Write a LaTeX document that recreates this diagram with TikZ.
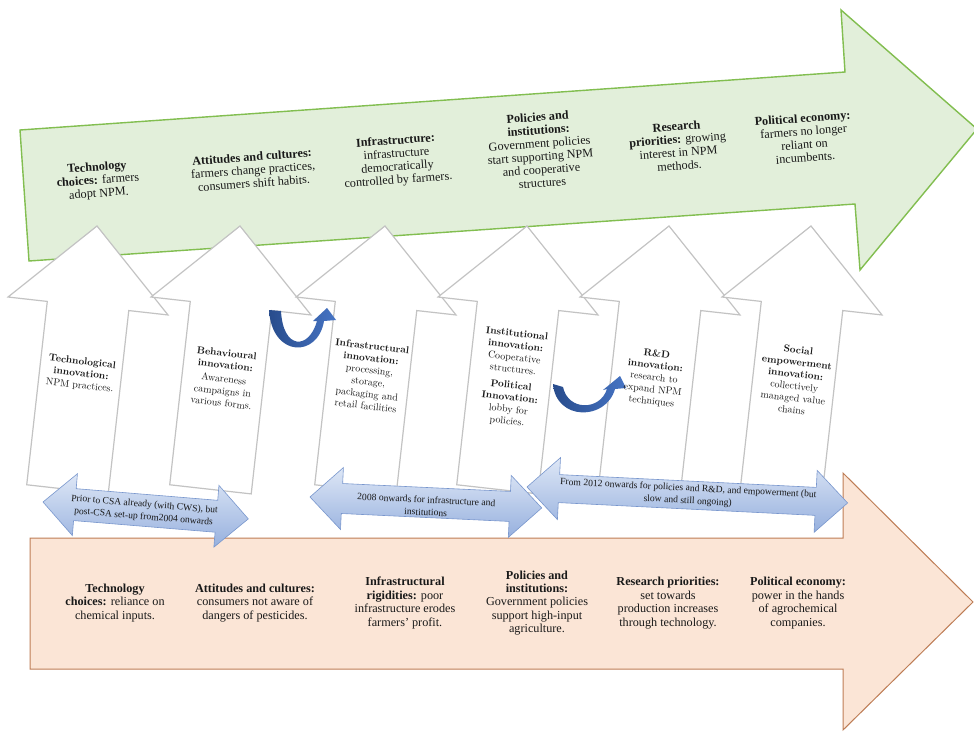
\documentclass[tikz,border=0pt]{standalone}
\usepackage{fontspec}
\newfontfamily\garfont{Liberation Serif}
\definecolor{grfill}{RGB}{226,239,218}
\definecolor{grline}{RGB}{130,190,80}
\definecolor{orfill}{RGB}{251,229,214}
\definecolor{orline}{RGB}{190,125,85}
\definecolor{wline}{RGB}{195,195,195}
\definecolor{bltop}{RGB}{222,231,246}
\definecolor{blbot}{RGB}{150,176,222}
\definecolor{blline}{RGB}{120,150,205}
\definecolor{cvdark}{RGB}{40,76,140}
\definecolor{cvlight}{RGB}{70,116,196}
\definecolor{txt}{RGB}{25,25,25}
\tikzset{
  greenarr/.style={draw=grline, fill=grfill, line width=1.4pt},
  orangearr/.style={draw=orline, fill=orfill, line width=1pt},
  whitearr/.style={draw=wline, fill=white, line width=1.2pt},
  bluearr/.style={draw=blline, line width=0.6pt, top color=bltop, bottom color=blbot},
  curvearr/.style={left color=cvdark, right color=cvlight},
  toptxt/.style={font=\garfont\fontsize{12.2}{13.2}\selectfont, align=center, text=txt, rotate=4.2, inner sep=0pt},
  midtxt/.style={font=\fontsize{10}{12}\selectfont, align=center, text=txt, rotate=-6.5, inner sep=0pt},
  bottxt/.style={font=\garfont\fontsize{12.2}{13.4}\selectfont, align=center, text=txt, inner sep=0pt},
  dbltxt/.style={font=\garfont\fontsize{9.6}{12.5}\selectfont, align=center, text=txt, inner sep=0pt},
}
\newcommand{\myuparrow}{%
  \draw[whitearr] (0,0) -- (80.5,80.5) -- (41,80.5) -- (41,265) -- (-41,265) -- (-41,80.5) -- (-80.5,80.5) -- cycle;}
\newcommand{\mydblarrow}[2]{% length, shaft half-width
  \draw[bluearr] (0,0) -- (32,-31) -- (32,-#2) -- ({#1-32},-#2) -- ({#1-32},-31) -- (#1,0)
    -- ({#1-32},31) -- ({#1-32},#2) -- (32,#2) -- (32,31) -- cycle;}
\begin{document}
\begin{tikzpicture}[x=1pt,y=-1pt,line join=miter]
\useasboundingbox (0,0) rectangle (974,731);
\fill[white] (0,0) rectangle (974,731);
% big horizontal arrows
\draw[greenarr] (20,130) -- (845,72) -- (841,10) -- (977,129) -- (860,270) -- (855,204) -- (29,261) -- cycle;
\draw[orangearr] (30,538) -- (843,538) -- (843,473) -- (973,602) -- (843,730) -- (843,669) -- (30,669) -- cycle;
% white upward arrows
\foreach \tx in {97,240,385,527,669,811}{
  \begin{scope}[shift={(\tx,226)},rotate=-6.4]
    \myuparrow
  \end{scope}
}
% double arrows
\begin{scope}[shift={(43,502)},rotate=-4.7]
  \mydblarrow{206}{16}
\end{scope}
\begin{scope}[shift={(310,497)},rotate=-2.7]
  \mydblarrow{232}{15}
\end{scope}
\begin{scope}[shift={(527,487)},rotate=-2.85]
  \mydblarrow{321}{14}
\end{scope}
% curved arrows
\shade[curvearr] (269,310) -- (281,311) .. controls (283,350) and (309,350) .. (317,321)
  -- (313,321) -- (327,308) -- (336,320) -- (324,321)
  .. controls (318,358) and (272,358) .. (269,310) -- cycle;
\shade[curvearr] (553,384) -- (563,387) .. controls (568,411) and (600,411) .. (607,389)
  -- (603,390) -- (620,376) -- (626,388) -- (615,389)
  .. controls (606,421) and (556,421) .. (553,384) -- cycle;
% top texts
\node[toptxt] (g1) at (98,181) {\textbf{Technology}\\\textbf{choices:} farmers\\adopt NPM.};
\node[toptxt] (g2) at (253,170) {\textbf{Attitudes and cultures:}\\farmers change practices,\\consumers shift habits.};
\node[toptxt] (g3) at (397,161) {\textbf{Infrastructure:}\\infrastructure\\democratically\\controlled by farmers.};
\node[toptxt] (g4) at (540,150) {\textbf{Policies and}\\\textbf{institutions:}\\Government policies\\start supporting NPM\\and cooperative\\structures};
\node[toptxt] (g5) at (678,146) {\textbf{Research}\\\textbf{priorities:} growing\\interest in NPM\\methods.};
\node[toptxt] (g6) at (804,138) {\textbf{Political economy:}\\farmers no longer\\reliant on\\incumbents.};
% middle texts
\node[midtxt] (m1) at (81,374) {\textbf{Technological}\\\textbf{innovation:}\\NPM practices.};
\node[midtxt] (m2) at (224,378) {\textbf{Behavioural}\\\textbf{innovation:}\\[2pt]Awareness\\campaigns in\\various forms.};
\node[midtxt] (m3) at (369,376) {\textbf{Infrastructural}\\\textbf{innovation:}\\processing,\\storage,\\packaging and\\retail facilities};
\node[midtxt] (m4) at (512,378) {\textbf{Institutional}\\\textbf{innovation:}\\Cooperative\\structures.\\[4pt]\textbf{Political}\\\textbf{Innovation:}\\lobby for\\policies.};
\node[midtxt] (m5) at (654,378) {\textbf{R\&D}\\\textbf{innovation:}\\research to\\expand NPM\\techniques};
\node[midtxt] (m6) at (795,380) {\textbf{Social}\\\textbf{empowerment}\\\textbf{innovation:}\\collectively\\managed value\\chains};
% double arrow texts
\node[dbltxt,rotate=-4.7] (d1) at (144,511) {Prior to CSA already (with CWS), but\\post-CSA set-up from2004 onwards};
\node[dbltxt,rotate=-2.7] (d2) at (426,506) {2008 onwards for infrastructure and\\institutions};
\node[dbltxt,rotate=-2.85] (d3) at (688,495) {From 2012 onwards for policies and R\&D, and empowerment (but\\slow and still ongoing)};
% bottom texts
\node[bottxt] (b1) at (115,603) {\textbf{Technology}\\\textbf{choices:} reliance on\\chemical inputs.};
\node[bottxt] (b2) at (255,603) {\textbf{Attitudes and cultures:}\\consumers not aware of\\dangers of pesticides.};
\node[bottxt] (b3) at (405,603) {\textbf{Infrastructural}\\\textbf{rigidities:} poor\\infrastructure erodes\\farmers’ profit.};
\node[bottxt] (b4) at (537,603) {\textbf{Policies and}\\\textbf{institutions:}\\Government policies\\support high-input\\agriculture.};
\node[bottxt] (b5) at (668,603) {\textbf{Research priorities:}\\set towards\\production increases\\through technology.};
\node[bottxt] (b6) at (798,603) {\textbf{Political economy:}\\power in the hands\\of agrochemical\\companies.};
\end{tikzpicture}
\end{document}
